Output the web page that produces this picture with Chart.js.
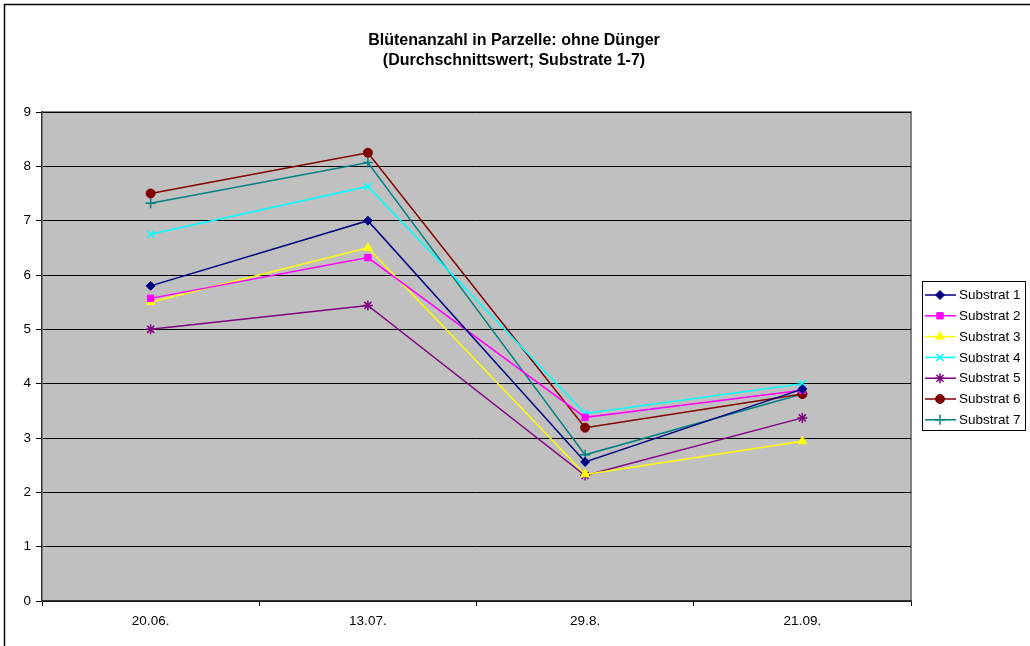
<!DOCTYPE html>
<html>
<head>
<meta charset="utf-8">
<script src="https://cdn.jsdelivr.net/npm/chart.js@4"></script>
<style>
html,body{margin:0;padding:0;background:#fff;}
#wrap{width:1030px;height:646px;position:relative;}
</style>
</head>
<body>
<div id="wrap"><canvas id="c" width="1030" height="646"></canvas></div>
<script>
const categories = ["20.06.", "13.07.", "29.8.", "21.09."];
const seriesNames = ["Substrat 1", "Substrat 2", "Substrat 3", "Substrat 4", "Substrat 5", "Substrat 6", "Substrat 7"];
const substrat1 = [5.8, 7.0, 2.56, 3.9];
const substrat2 = [5.57, 6.32, 3.38, 3.88];
const substrat3 = [5.5, 6.5, 2.33, 2.94];
const substrat4 = [6.75, 7.63, 3.45, 4.0];
const substrat5 = [5.0, 5.44, 2.31, 3.37];
const substrat6 = [7.5, 8.25, 3.19, 3.81];
const substrat7 = [7.32, 8.07, 2.69, 3.81];
const titleLines = ["Blütenanzahl in Parzelle: ohne Dünger", "(Durchschnittswert; Substrate 1-7)"];

const seriesValues = [substrat1, substrat2, substrat3, substrat4, substrat5, substrat6, substrat7];
const colors = ["#000080", "#ff00ff", "#ffff00", "#00ffff", "#800080", "#800000", "#008080"];
const markers = ["rectRot", "rect", "triangle", "crossRot", "star", "circle", "cross"];
const radii = [4.5, 4.5, 5, 5, 5, 4.5, 5];

const FONT = "'Liberation Sans', Arial, sans-serif";

const datasets = seriesNames.map((n, i) => ({
  label: n,
  data: seriesValues[i],
  borderColor: colors[i],
  backgroundColor: colors[i],
  pointBackgroundColor: colors[i],
  pointBorderColor: colors[i],
  pointStyle: markers[i],
  pointRadius: radii[i],
  pointBorderWidth: (markers[i] === "crossRot" || markers[i] === "cross" || markers[i] === "star") ? 1.5 : 1,
  borderWidth: 1.5,
  tension: 0,
  fill: false
}));

const bgPlugin = {
  id: "bg",
  beforeDraw(chart) {
    const ctx = chart.ctx, a = chart.chartArea;
    ctx.save();
    ctx.fillStyle = "#fff";
    ctx.fillRect(0, 0, chart.width, chart.height);
    ctx.strokeStyle = "#000";
    ctx.lineWidth = 1.5;
    ctx.strokeRect(4.5, 4.5, chart.width + 10, chart.height + 10);
    ctx.fillStyle = "#c0c0c0";
    ctx.fillRect(a.left, a.top, a.right - a.left, a.bottom - a.top);
    ctx.strokeStyle = "#808080";
    ctx.lineWidth = 2;
    ctx.beginPath();
    ctx.moveTo(a.left, a.top);
    ctx.lineTo(a.right, a.top);
    ctx.lineTo(a.right, a.bottom);
    ctx.stroke();
    // title
    ctx.fillStyle = "#000";
    ctx.font = "bold 16px " + FONT;
    ctx.textAlign = "center";
    ctx.textBaseline = "middle";
    titleLines.forEach((t, i) => ctx.fillText(t, 514, 41 + i * 20));
    ctx.restore();
  }
};

const legendPlugin = {
  id: "customLegend",
  afterDraw(chart) {
    const ctx = chart.ctx;
    const x0 = 922, y0 = 281, w = 103, h = 149;
    ctx.save();
    ctx.fillStyle = "#fff";
    ctx.fillRect(x0, y0, w, h);
    ctx.strokeStyle = "#000";
    ctx.lineWidth = 1;
    ctx.strokeRect(x0 + 0.5, y0 + 0.5, w, h);
    const dsets = chart.data.datasets;
    const step = 20.8;
    ctx.font = "13.5px " + FONT;
    ctx.textBaseline = "middle";
    ctx.textAlign = "left";
    dsets.forEach((ds, i) => {
      const cy = y0 + 14 + i * step;
      ctx.strokeStyle = ds.borderColor;
      ctx.lineWidth = 1.5;
      ctx.beginPath();
      ctx.moveTo(925, cy);
      ctx.lineTo(956, cy);
      ctx.stroke();
      ctx.fillStyle = ds.pointBackgroundColor;
      ctx.strokeStyle = ds.pointBorderColor;
      ctx.lineWidth = ds.pointBorderWidth;
      Chart.helpers.drawPoint(ctx, { pointStyle: ds.pointStyle, radius: ds.pointRadius, rotation: 0, borderWidth: ds.pointBorderWidth }, 940, cy);
      ctx.fillStyle = "#000";
      ctx.fillText(ds.label, 959, cy + 0.5);
    });
    ctx.restore();
  }
};

new Chart(document.getElementById("c"), {
  type: "line",
  data: { labels: categories, datasets: datasets },
  options: {
    responsive: false,
    animation: false,
    layout: { padding: { left: 0, right: 119, top: 112, bottom: 0 } },
    plugins: {
      legend: { display: false },
      tooltip: { enabled: false },
      title: { display: false }
    },
    scales: {
      x: {
        type: "category",
        offset: true,
        grid: { display: true, offset: true, drawOnChartArea: false, drawTicks: true, tickLength: 5, color: "#000", lineWidth: 1 },
        border: { display: true, color: "#333", width: 1.5 },
        ticks: { color: "#000", font: { family: FONT, size: 13.5 }, padding: 7, maxRotation: 0 },
        afterFit(scale) { scale.height = 45; }
      },
      y: {
        min: 0, max: 9,
        ticks: { stepSize: 1, color: "#000", font: { family: FONT, size: 13.5 }, padding: 5 },
        grid: { color: "#000", lineWidth: 1, drawTicks: true, tickLength: 6 },
        border: { display: true, color: "#333", width: 1.5 },
        afterFit(scale) { scale.width = 42; }
      }
    }
  },
  plugins: [bgPlugin, legendPlugin]
});
</script>
</body>
</html>
